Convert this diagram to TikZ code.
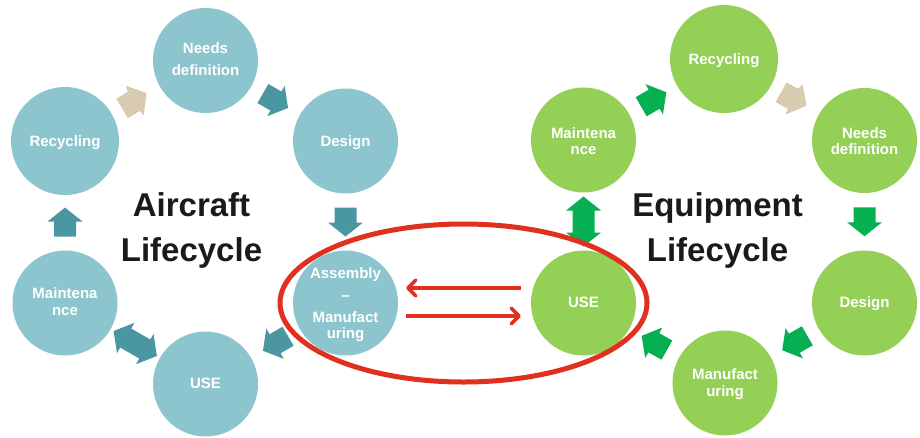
\documentclass[tikz,border=0pt]{standalone}
\usepackage{fontspec}
\setmainfont{Liberation Sans}
\usetikzlibrary{calc,arrows.meta}
\definecolor{tealcirc}{HTML}{8CC5CE}
\definecolor{tealarr}{HTML}{4A97A2}
\definecolor{greencirc}{HTML}{94D055}
\definecolor{greenarr}{HTML}{06AF51}
\definecolor{redmark}{HTML}{E0301E}
\definecolor{titleink}{HTML}{1A1A1A}
\definecolor{tanfill}{HTML}{E2D5BD}
\definecolor{tanline}{HTML}{CDBC9C}
\tikzset{
  stagetext/.style={inner sep=0pt,text=white,align=center,
    font=\bfseries\fontsize{15}{16}\selectfont},
  says/.style 2 args={label={[stagetext,yshift=#1]center:#2}},
  stage/.style={circle,minimum size=105pt,inner sep=0pt},
  tealstage/.style={stage,fill=tealcirc},
  greenstage/.style={stage,fill=greencirc},
  bigtitle/.style={align=center,text=titleink,font=\bfseries\fontsize{33}{44.5}\selectfont},
  tealfill/.style={fill=tealarr},
  greenfill/.style={fill=greenarr},
  redlink/.style={draw=redmark,line width=3.5pt,-{Straight Barb[length=8pt,width=16pt,round]}},
  blockarrow/.pic={\fill[pic actions] (-14.5,-11) -- (0.5,-11) -- (0.5,-17.5) -- (14.5,0)
     -- (0.5,17.5) -- (0.5,11) -- (-14.5,11) -- cycle;},
  doublearrow/.pic={\fill[pic actions] (-25,0) -- (-11,-17.5) -- (-11,-11) -- (11,-11) -- (11,-17.5)
     -- (25,0) -- (11,17.5) -- (11,11) -- (-11,11) -- (-11,17.5) -- cycle;},
  tanarrow/.pic={\begin{scope}[xshift=-1pt]
     \clip (-14.5,-11) -- (-1,-11.5) -- (0.5,-17.5) -- (14.5,-1) -- (1,17) -- (0,11) -- (-14,11.5) -- cycle;
     \fill[tanfill] (-20,-20) rectangle (20,20);
     \draw[tanline,line width=0.35pt] (-20,-20) grid[step=2.5pt] (20,20);
     \end{scope}},
}
\newcommand{\flowarrow}[4]{\path let \p1=(#3),\p2=(#4),\n1={atan2(\y2-\y1,\x2-\x1)} in
   ($(#3)!0.5!(#4)$) pic[rotate=\n1,#2] {#1};}
\begin{document}
\begin{tikzpicture}[x=1pt,y=-1pt]
\useasboundingbox (0,0) rectangle (920,437);
\fill[white] (0,0) rectangle (920,437);
% left cycle
\node[tealstage,says={1pt}{Needs\\[6pt]definition}] (lneeds) at (205.5,60.5) {};
\node[tealstage,minimum size=108pt,says={-2pt}{Recycling}] (lrecy) at (65,141) {};
\node[tealstage,says={-2pt}{Design}] (ldesign) at (345.5,141) {};
\node[tealstage,says={-2pt}{Assembly\\[6pt]--\\[6pt]Manufact\\uring}] (lasm) at (345.5,303) {};
\node[tealstage,says={1pt}{USE}] (luse) at (205.5,384) {};
\node[tealstage,says={1pt}{Maintena\\[1pt]nce}] (lmaint) at (65,303) {};
% right cycle
\node[greenstage,minimum size=108pt,says={-2pt}{Recycling}] (rrecy) at (724,59) {};
\node[greenstage,says={-1pt}{Maintena\\nce}] (rmaint) at (583.5,140) {};
\node[greenstage,says={-1pt}{Needs\\definition}] (rneeds) at (864.5,140.5) {};
\node[greenstage,says={-1pt}{Design}] (rdesign) at (864.5,303) {};
\node[greenstage,says={-1pt}{Manufact\\[1pt]uring}] (rmanuf) at (725,383) {};
\node[greenstage,says={1pt}{USE}] (ruse) at (583.5,303) {};
% titles
\node[bigtitle] (ltitle) at (191.5,230.25) {Aircraft\\Lifecycle};
\node[bigtitle] (rtitle) at (717.5,230.25) {Equipment\\Lifecycle};
% block arrows
\flowarrow{tanarrow}{}{lrecy}{lneeds}
\flowarrow{blockarrow}{tealfill}{lneeds}{ldesign}
\flowarrow{blockarrow}{tealfill}{ldesign}{lasm}
\flowarrow{blockarrow}{tealfill}{lasm}{luse}
\flowarrow{doublearrow}{tealfill}{luse}{lmaint}
\flowarrow{blockarrow}{tealfill}{lmaint}{lrecy}
\flowarrow{blockarrow}{greenfill}{rmaint}{rrecy}
\flowarrow{tanarrow}{}{rrecy}{rneeds}
\flowarrow{blockarrow}{greenfill}{rneeds}{rdesign}
\flowarrow{blockarrow}{greenfill}{rdesign}{rmanuf}
\flowarrow{blockarrow}{greenfill}{rmanuf}{ruse}
\flowarrow{doublearrow}{greenfill}{ruse}{rmaint}
% red mark and exchange links
\draw[redmark,line width=5pt] (463.5,303) ellipse [x radius=183.5,y radius=79];
\coordinate (usetop) at ($(ruse.west)+(-10,-15)$);
\coordinate (asmtop) at ($(lasm.east)+(8,-15)$);
\coordinate (usebot) at ($(ruse.west)+(-10,13)$);
\coordinate (asmbot) at ($(lasm.east)+(8,13)$);
\draw[redlink] (usetop) -- (asmtop);
\draw[redlink] (asmbot) -- (usebot);
\end{tikzpicture}
\end{document}
